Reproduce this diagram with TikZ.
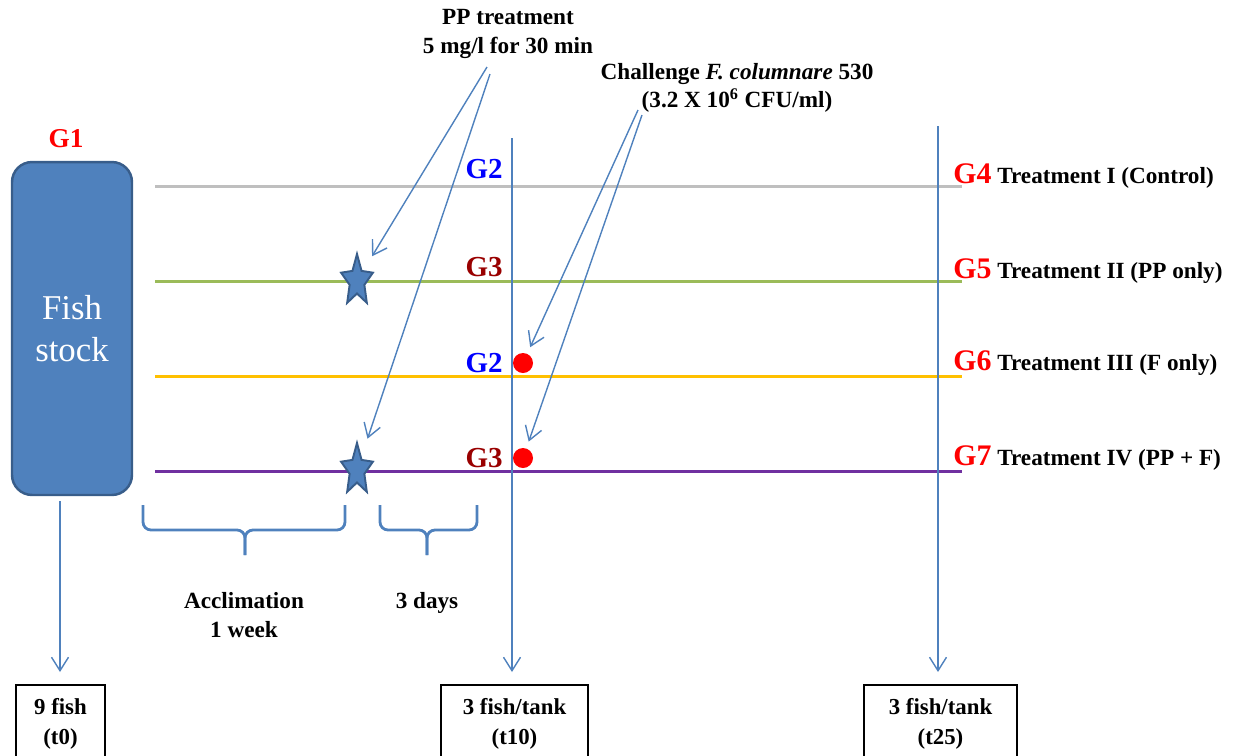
\documentclass[tikz,border=0pt]{standalone}
\usepackage{fontspec}
\setmainfont{Liberation Serif}
\usetikzlibrary{arrows.meta}

\definecolor{acc}{HTML}{4F81BD}
\definecolor{accdark}{HTML}{385D8A}
\definecolor{lgray}{HTML}{BFBFBF}
\definecolor{lgreen}{HTML}{9BBB59}
\definecolor{lorange}{HTML}{FFC000}
\definecolor{lpurple}{HTML}{7030A0}
\definecolor{gdark}{HTML}{990000}
\definecolor{gblue}{HTML}{0000FF}

\newcommand\grp[2]{{\color{#1}\fontsize{17}{17}\selectfont #2}}

\begin{document}
\begin{tikzpicture}[x=0.02cm,y=-0.02cm,
  arr/.style={draw=acc, line width=0.8pt, -{Straight Barb[length=0.27cm,width=0.34cm]}},
  track/.style={line width=1.7pt},
  lbl/.style={font=\bfseries\fontsize{13.2}{16}\selectfont, inner sep=0pt, align=center},
  glab/.style={font=\bfseries\fontsize{16.5}{17}\selectfont, inner sep=0pt},
  fishbox/.style={draw=accdark, line width=1.4pt, fill=acc, rounded corners=0.4cm,
    minimum width=2.4cm, minimum height=6.66cm, text=white, align=center,
    font=\fontsize{19.8}{24}\selectfont},
  sample/.style={draw=black, line width=1.2pt, anchor=north, minimum height=1.56cm,
    align=center, font=\bfseries\fontsize{13}{17}\selectfont},
  dot/.style={circle, fill=red, inner sep=0pt, minimum size=0.4cm},
  brace/.style={draw=acc, line width=1.6pt, rounded corners=0.16cm},
  fishstar/.pic={\draw[fill=acc, draw=accdark, line width=1.1pt, line join=miter]
    (-90:27) -- (-54:12.5) -- (-18:27) -- (18:12.5) -- (54:27) -- (90:12.5)
    -- (126:27) -- (162:12.5) -- (198:27) -- (234:12.5) -- cycle;}
]
\useasboundingbox (0,0) rectangle (1234,755);
\clip (0,0) rectangle (1234,755);

% treatment tracks
\draw[track, lgray]   (155,186) -- (962,186);
\draw[track, lgreen]  (155,281) -- (962,281);
\draw[track, lorange] (155,376) -- (962,376);
\draw[track, lpurple] (155,471) -- (962,471);

% fish stock
\node[fishbox] (stock) at (72,328.5) {Fish\\stock};
\node[glab, font=\bfseries\fontsize{15.5}{16}\selectfont, text=red, anchor=base] (g1) at (66,147) {G1};

% sampling boxes
\node[sample, minimum width=1.78cm] (t0)  at (60.5,684)  {9 fish\\(t0)};
\node[sample, minimum width=2.94cm] (t10) at (514.5,684) {3 fish/tank\\(t10)};
\node[sample, minimum width=3.06cm] (t25) at (940.5,684) {3 fish/tank\\(t25)};

% sampling arrows
\coordinate (g1out) at (60,501);
\coordinate (v10)   at (512,138);
\coordinate (v25)   at (938,126);
\draw[arr, shorten >=0.24cm] (g1out) -- (g1out |- t0.north);
\draw[arr, shorten >=0.24cm] (v10) -- (v10 |- t10.north);
\draw[arr, shorten >=0.24cm] (v25) -- (v25 |- t25.north);

% stars and challenge dots
\coordinate (st1) at (357,281);
\coordinate (st2) at (357,470);
\pic[xscale=0.62] at (st1) {fishstar};
\pic[xscale=0.62] at (st2) {fishstar};
\node[dot] (d1) at (523,363) {};
\node[dot] (d2) at (523,458) {};

% group labels at the time points
\node[glab, text=gblue, anchor=base east] (g2a) at (503,178) {G2};
\node[glab, text=gdark, anchor=base east] (g3a) at (503,276) {G3};
\node[glab, text=gblue, anchor=base east] (g2b) at (503,372) {G2};
\node[glab, text=gdark, anchor=base east] (g3b) at (503,467) {G3};

% treatment labels
\node[lbl, anchor=base west] (tr1) at (953,183) {\grp{red}{G4} Treatment I (Control)};
\node[lbl, anchor=base west] (tr2) at (953,278) {\grp{red}{G5} Treatment II (PP only)};
\node[lbl, anchor=base west] (tr3) at (953,370) {\grp{red}{G6} Treatment III (F only)};
\node[lbl, anchor=base west] (tr4) at (953,465) {\grp{red}{G7} Treatment IV (PP + F)};

% PP treatment
\node[lbl] (pp) at (508,34) {PP treatment\\5 mg/l for 30 min};
\coordinate (pp1) at (487,67);
\coordinate (pp2) at (490,74);
\draw[arr, shorten >=0.58cm] (pp1) -- (st1);
\draw[arr, shorten >=0.66cm] (pp2) -- (st2);

% challenge
\node[lbl] (ch) at (737,88) {Challenge \textit{F. columnare} 530\\(3.2 X 10\textsuperscript{6} CFU/ml)};
\coordinate (ch1) at (638,110);
\coordinate (ch2) at (642,115);
\draw[arr, shorten >=0.14cm] (ch1) -- (d1);
\draw[arr, shorten >=0.14cm] (ch2) -- (d2);

% periods
\draw[brace] (143,505) |- (245,530) -- (245,555);
\draw[brace] (245,555) -- (245,530) -| (345,505);
\draw[brace] (380,505) |- (427,530) -- (427,555);
\draw[brace] (427,555) -- (427,530) -| (477,505);
\node[lbl] (accl) at (244,615) {Acclimation\\1 week};
\node[lbl, anchor=base] (days) at (427,608) {3 days};
\end{tikzpicture}
\end{document}
